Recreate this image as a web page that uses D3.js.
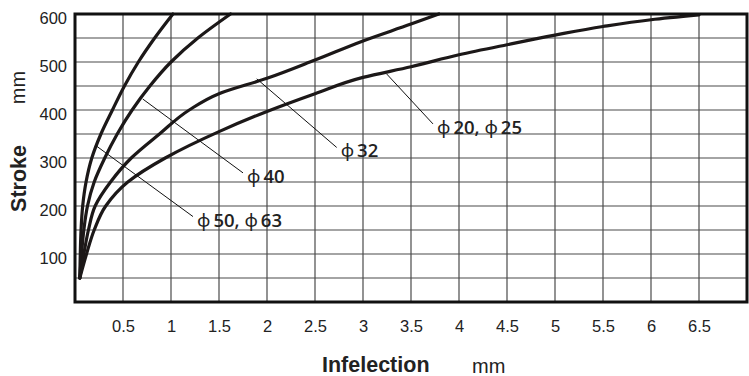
<!DOCTYPE html>
<html>
<head>
<meta charset="utf-8">
<script src="https://cdn.jsdelivr.net/npm/d3@7"></script>
<style>
  body { margin: 0; background: #fff; }
  svg { display: block; }
</style>
</head>
<body>
<svg id="chart" width="749" height="376"></svg>
<script>
// Tick labels
const xTickValues = [0.5, 1, 1.5, 2, 2.5, 3, 3.5, 4, 4.5, 5, 5.5, 6, 6.5];
const yTickValues = [100, 200, 300, 400, 500, 600];

// Curves: [infelection (mm), stroke (mm)]
const phi50_63 = [[0.05,50],[0.055,100],[0.063,150],[0.08,200],[0.115,250],[0.175,300],[0.27,350],[0.39,400],[0.515,450],[0.66,500],[0.83,550],[1.02,600]];
const phi40    = [[0.05,50],[0.068,100],[0.092,150],[0.13,200],[0.2,250],[0.31,300],[0.44,350],[0.595,400],[0.78,450],[1.0,500],[1.28,550],[1.62,600]];
const phi32    = [[0.05,50],[0.092,100],[0.14,150],[0.21,200],[0.37,250],[0.586,300],[0.88,350],[1.19,400],[1.5,434],[2.0,466],[2.5,504],[3.0,544],[3.5,579],[3.79,600]];
const phi20_25 = [[0.05,50],[0.12,100],[0.2,150],[0.32,200],[0.55,250],[0.94,300],[1.5,355],[2.0,397],[2.5,434],[3.0,468],[3.5,490],[4.0,515],[4.5,536],[5.0,556],[5.5,574],[6.0,588],[6.5,598]];

const seriesLabels = ["ϕ50, ϕ63", "ϕ40", "ϕ32", "ϕ20, ϕ25"];
const seriesData = [phi50_63, phi40, phi32, phi20_25];

// Leader lines from each curve to its label, in data units
const leaderFrom = [[0.216, 326], [0.705, 423], [1.893, 465], [3.247, 475]];
const leaderTo   = [[1.229, 178], [1.75, 269], [2.726, 322], [3.729, 371]];

const svg = d3.select("#chart");
const x = d3.scaleLinear().domain([0, 7]).range([75, 747]);
const y = d3.scaleLinear().domain([0, 600]).range([302, 14]);

// Grid
const grid = svg.append("g").attr("stroke", "#4a4a4a").attr("stroke-width", 1.2);
grid.selectAll("line.v").data(d3.range(0.5, 7, 0.5)).join("line")
  .attr("class", "v")
  .attr("x1", d => x(d)).attr("x2", d => x(d))
  .attr("y1", y(0)).attr("y2", y(600));
grid.selectAll("line.h").data(d3.range(50, 600, 50)).join("line")
  .attr("class", "h")
  .attr("x1", x(0)).attr("x2", x(7))
  .attr("y1", d => y(d)).attr("y2", d => y(d));

// Axis tick labels
const xAxis = d3.axisBottom(x).tickValues(xTickValues).tickSize(0).tickPadding(0)
  .tickFormat(d => String(d));
const gx = svg.append("g").attr("transform", `translate(0,${y(0) + 18})`).call(xAxis);
gx.select(".domain").remove();
gx.selectAll("text")
  .attr("font-family", "'Liberation Sans', Arial, sans-serif")
  .attr("font-size", 16.5).attr("fill", "#222").attr("dy", "0.71em");

const yAxis = d3.axisLeft(y).tickValues(yTickValues).tickSize(0).tickPadding(0)
  .tickFormat(d => String(d));
const gy = svg.append("g").attr("transform", `translate(${x(0) - 8},0)`).call(yAxis);
gy.select(".domain").remove();
gy.selectAll("text")
  .attr("font-family", "'Liberation Sans', Arial, sans-serif")
  .attr("font-size", 16.5).attr("fill", "#222").attr("dy", "0.55em");

// Curves (stroke rises monotonically, so interpolate along y)
const line = d3.line().x(d => x(d[0])).y(d => y(d[1])).curve(d3.curveMonotoneY);
svg.append("g").selectAll("path").data(seriesData).join("path")
  .attr("d", line)
  .attr("fill", "none")
  .attr("stroke", "#1c1818")
  .attr("stroke-width", 3.2)
  .attr("stroke-linecap", "round")
  .attr("stroke-linejoin", "round");

// Leader lines and labels
const callouts = svg.append("g");
seriesLabels.forEach((label, i) => {
  const [fx, fy] = leaderFrom[i];
  const [tx, ty] = leaderTo[i];
  callouts.append("line")
    .attr("x1", x(fx)).attr("y1", y(fy))
    .attr("x2", x(tx)).attr("y2", y(ty))
    .attr("stroke", "#111").attr("stroke-width", 1);
  const t = callouts.append("text")
    .attr("x", x(tx) + 4).attr("y", y(ty) + 10)
    .attr("font-family", "'Open Sans', 'Noto Sans', sans-serif")
    .attr("font-size", 18.5).attr("fill", "#222");
  label.split(/(ϕ)/).filter(s => s.length).forEach(part => {
    const isPhi = part === "ϕ";
    t.append("tspan")
      .attr("font-weight", isPhi ? 400 : 600)
      .attr("dx", isPhi ? 0 : 3)
      .text(part);
  });
});

// Frame
svg.append("rect")
  .attr("x", x(0)).attr("y", y(600))
  .attr("width", x(7) - x(0)).attr("height", y(0) - y(600))
  .attr("fill", "none").attr("stroke", "#111").attr("stroke-width", 3);

// Axis titles
svg.append("text")
  .attr("x", 322).attr("y", 371.5)
  .attr("font-family", "'Liberation Sans', Arial, sans-serif")
  .attr("font-weight", "bold").attr("font-size", 21.5).attr("fill", "#222")
  .text("Infelection");
svg.append("text")
  .attr("x", 472).attr("y", 373)
  .attr("font-family", "'Liberation Sans', Arial, sans-serif")
  .attr("font-size", 20).attr("fill", "#222")
  .text("mm");
svg.append("text")
  .attr("transform", "translate(25.5,178.5) rotate(-90)")
  .attr("text-anchor", "middle")
  .attr("font-family", "'Liberation Sans', Arial, sans-serif")
  .attr("font-weight", "bold").attr("font-size", 21.5).attr("fill", "#222")
  .text("Stroke");
svg.append("text")
  .attr("transform", "translate(25,87.5) rotate(-90)")
  .attr("text-anchor", "middle")
  .attr("font-family", "'Liberation Sans', Arial, sans-serif")
  .attr("font-size", 20).attr("fill", "#222")
  .text("mm");
</script>
</body>
</html>
